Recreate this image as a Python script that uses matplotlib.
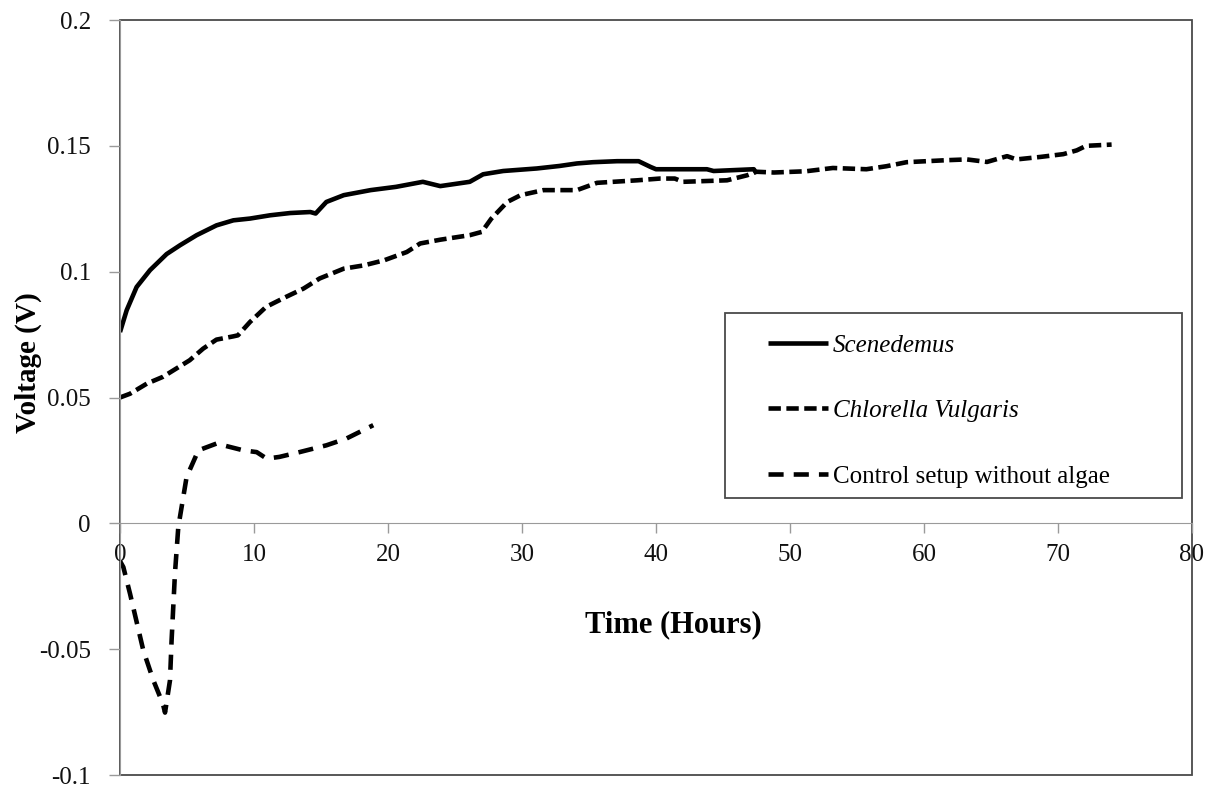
import numpy as np
import matplotlib
matplotlib.use("Agg")
import matplotlib.pyplot as plt
from matplotlib.patches import Rectangle

plt.rcParams['font.family'] = ['Liberation Serif', 'DejaVu Serif']

# Messwerte Spannung (V) ueber Zeit (h)
t_scen = [0, 0.5, 1.24, 2.24, 3.48, 4.48, 5.72, 7.2, 8.46, 9.7, 11.2, 12.7, 14.2, 14.6,
          15.4, 16.7, 18.7, 20.6, 22.6, 23.9, 26.1, 27.1, 28.6, 31.1, 32.8, 34.1, 35.3,
          37.1, 38.7, 39.6, 40.0, 43.8, 44.3, 47.3, 47.5]
v_scen = [0.076, 0.0847, 0.0939, 0.1006, 0.107, 0.1105, 0.1145, 0.1184, 0.1204, 0.1211,
          0.1224, 0.1233, 0.1237, 0.1231, 0.1277, 0.1304, 0.1324, 0.1337, 0.1357, 0.134,
          0.1357, 0.1387, 0.14, 0.141, 0.142, 0.143, 0.1435, 0.1439, 0.1439, 0.1416,
          0.1407, 0.1407, 0.140, 0.1407, 0.139]

t_chlo = [0, 0.75, 2.0, 3.2, 4.2, 5.2, 6.2, 7.2, 8.46, 8.8, 9.7, 10.9, 12.4, 13.7, 14.9,
          16.7, 18.2, 19.7, 21.4, 22.4, 23.9, 26.1, 27.0, 27.7, 28.9, 29.9, 31.6, 34.1,
          35.6, 38.6, 40.3, 41.4, 42.0, 45.3, 46.8, 47.5, 48.8, 51.2, 53.2, 55.7, 57.2,
          58.7, 61.7, 63.2, 64.7, 66.2, 66.9, 68.7, 70.4, 71.4, 72.1, 74.0]
v_chlo = [0.050, 0.0515, 0.0555, 0.0582, 0.0615, 0.0648, 0.0694, 0.073, 0.0743, 0.0747,
          0.080, 0.086, 0.090, 0.0933, 0.0973, 0.1012, 0.1025, 0.1045, 0.1078, 0.1112,
          0.1127, 0.1145, 0.1158, 0.121, 0.1277, 0.1304, 0.1324, 0.1324, 0.1353, 0.1363,
          0.137, 0.137, 0.1357, 0.1363, 0.1383, 0.1397, 0.1394, 0.1399, 0.1412, 0.1407,
          0.1419, 0.1435, 0.1443, 0.1446, 0.1436, 0.1459, 0.1446, 0.1456, 0.1467, 0.1482,
          0.150, 0.1505]

t_ctrl = [0, 0.25, 0.75, 1.74, 2.49, 3.2, 3.36, 3.73, 3.85, 4.1, 4.35, 4.97, 5.85, 7.2,
          9.2, 10.2, 10.95, 11.9, 13.4, 15.4, 16.9, 18.9]
v_ctrl = [-0.015, -0.0174, -0.028, -0.0505, -0.0624, -0.0717, -0.0752, -0.0624, -0.0465,
          -0.020, -0.0015, 0.0184, 0.029, 0.0317, 0.029, 0.0283, 0.0257, 0.0264, 0.0283,
          0.031, 0.0337, 0.039]

x_ticks = [0, 10, 20, 30, 40, 50, 60, 70, 80]
y_ticks = [-0.1, -0.05, 0, 0.05, 0.1, 0.15, 0.2]
y_ticklabels = ['-0.1', '-0.05', '0', '0.05', '0.1', '0.15', '0.2']

W, H = 1211, 788
fig = plt.figure(figsize=(W / 100, H / 100), dpi=100)
ax = fig.add_axes([120 / W, 1 - 775 / H, (1192 - 120) / W, (775 - 20) / H])

lw = 3.3
ax.plot(t_scen, v_scen, color='black', lw=lw, solid_capstyle='butt',
        label='Scenedemus')
ax.plot(t_chlo, v_chlo, color='black', lw=lw, dashes=(2.7, 1.2),
        dash_capstyle='butt', label='Chlorella Vulgaris')
ax.plot(t_ctrl, v_ctrl, color='black', lw=lw, dashes=(3.3, 2.2),
        dash_capstyle='butt', label='Control setup without algae')

ax.set_xlim(0, 80)
ax.set_ylim(-0.1, 0.2)

# x-Achse liegt bei 0 V
ax.spines['bottom'].set_position(('data', 0))
ax.spines['bottom'].set_color('#9a9a9a')
ax.spines['left'].set_color('#9a9a9a')
ax.spines['top'].set_visible(False)
ax.spines['right'].set_visible(False)
ax.add_patch(Rectangle((0, 0), 1, 1, transform=ax.transAxes, fill=False,
                       edgecolor='#4a4a4a', lw=1.3, clip_on=False, zorder=0))

ax.set_xticks(x_ticks)
ax.set_xticklabels([str(x) for x in x_ticks])
ax.set_yticks(y_ticks)
ax.set_yticklabels(y_ticklabels)
ax.tick_params(axis='x', direction='out', length=7, width=1, color='#9a9a9a',
               labelsize=18, labelcolor='#111111', pad=8)
ax.tick_params(axis='y', direction='out', length=8, width=1, color='#9a9a9a',
               labelsize=18, labelcolor='#111111', pad=13)

fig.text(673 / W, 1 - 625 / H, 'Time (Hours)', ha='center', va='center',
         fontsize=22, fontweight='bold')
fig.text(28 / W, 1 - 363 / H, 'Voltage (V)', ha='center', va='center',
         fontsize=21, fontweight='bold', rotation=90)

# Legende mit eigenem Rahmen
leg = ax.legend(loc='upper left', bbox_to_anchor=(768 / W, 1 - 334 / H),
                bbox_transform=fig.transFigure, frameon=False, fontsize=18,
                borderpad=0, borderaxespad=0, handlelength=2.4,
                handletextpad=0.2, labelspacing=1.72)
leg.get_texts()[0].set_fontstyle('italic')
leg.get_texts()[1].set_fontstyle('italic')
fig.add_artist(Rectangle((725 / W, 1 - 498 / H), 457 / W, 185 / H,
                         transform=fig.transFigure, fill=False,
                         edgecolor='#4a4a4a', lw=1.3))

fig.savefig('out.png', dpi=100)
